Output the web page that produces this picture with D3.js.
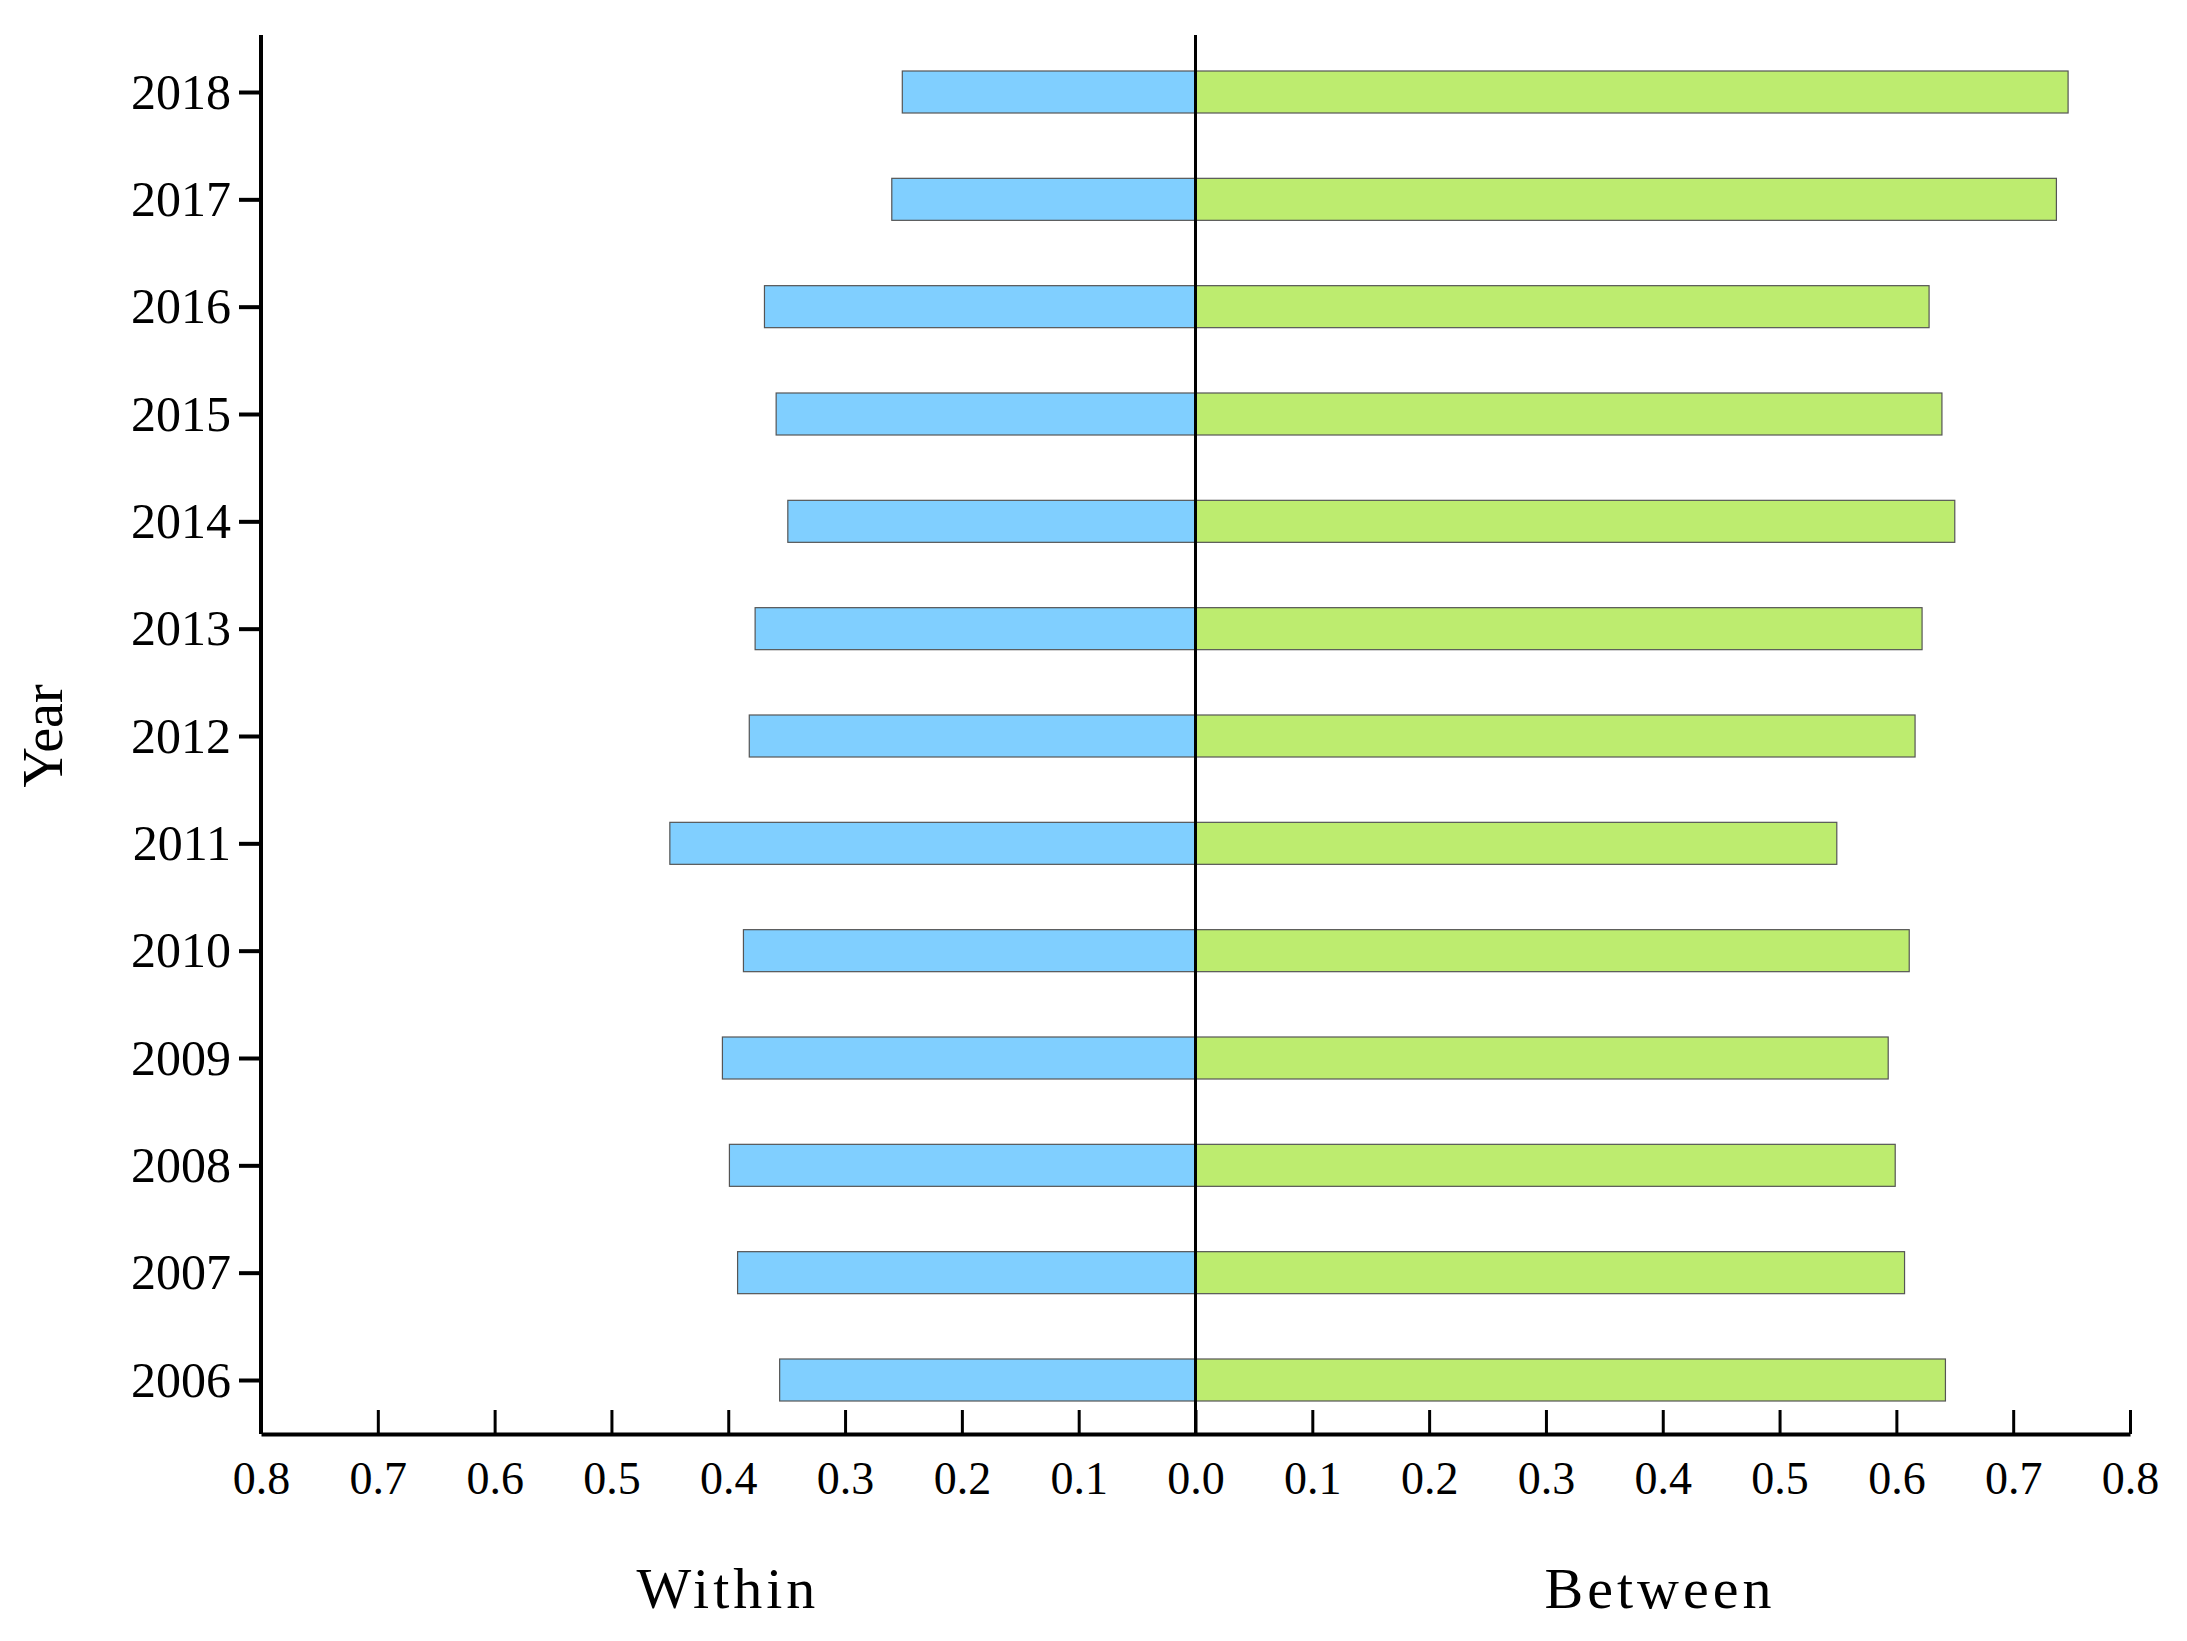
<!DOCTYPE html>
<html><head><meta charset="utf-8">
<script src="https://d3js.org/d3.v7.min.js"></script>
<style>body{margin:0;background:#fff}</style></head>
<body><svg id="c" width="2187" height="1641"></svg>
<script>
const years = ["2006","2007","2008","2009","2010","2011","2012","2013","2014","2015","2016","2017","2018"];
const within = [0.356,0.392,0.399,0.405,0.387,0.450,0.382,0.377,0.349,0.359,0.369,0.260,0.251];
const between = [0.642,0.607,0.599,0.593,0.611,0.549,0.616,0.622,0.650,0.639,0.628,0.737,0.747];
const tickVals = [-0.8,-0.7,-0.6,-0.5,-0.4,-0.3,-0.2,-0.1,0,0.1,0.2,0.3,0.4,0.5,0.6,0.7,0.8];

const svg = d3.select("#c");
const font = "'Liberation Serif', serif";
const x = d3.scaleLinear().domain([-0.8,0.8]).range([261,2130]);
const y = d3.scalePoint().domain(years).range([1380,92]);
const axisY = 1434, bh = 42;

// bars
svg.selectAll(".w").data(years).join("rect")
  .attr("x",(d,i)=>x(-within[i])).attr("y",d=>y(d)-bh/2)
  .attr("width",(d,i)=>x(0)-x(-within[i])).attr("height",bh)
  .attr("fill","#80cfff").attr("stroke","#555").attr("stroke-width",1.2);
svg.selectAll(".b").data(years).join("rect")
  .attr("x",x(0)).attr("y",d=>y(d)-bh/2)
  .attr("width",(d,i)=>x(between[i])-x(0)).attr("height",bh)
  .attr("fill","#bdec6f").attr("stroke","#555").attr("stroke-width",1.2);

// center line
svg.append("line").attr("x1",x(0)).attr("x2",x(0)).attr("y1",35).attr("y2",axisY).attr("stroke","#000").attr("stroke-width",3);

// x axis
const xa = svg.append("g").attr("transform",`translate(0,${axisY})`)
  .call(d3.axisBottom(x).tickValues(tickVals).tickSize(-24).tickSizeOuter(0)
    .tickFormat(d=>{const s=Math.abs(d).toFixed(1);return s.split("").join(" ").replace(" . "," .");}));
xa.select(".domain").attr("stroke-width",4);
xa.selectAll(".tick line").attr("stroke-width",3);
xa.selectAll("text").attr("font-family",font).attr("font-size",46).attr("dy","0").attr("y",60)
  .text(d=>Math.abs(d).toFixed(1));

// y axis
const ya = svg.append("g").attr("transform",`translate(261,0)`)
  .call(d3.axisLeft(y).tickSize(22).tickSizeOuter(0).tickPadding(8));
ya.select(".domain").attr("d",`M0,35V${axisY}`).attr("stroke-width",4);
ya.selectAll(".tick line").attr("stroke-width",4);
ya.selectAll("text").attr("font-family",font).attr("font-size",50);

svg.append("text").attr("transform","translate(62,736) rotate(-90)").attr("text-anchor","middle")
  .attr("font-family",font).attr("font-size",56).text("Year");
svg.append("text").attr("x",728).attr("y",1608).attr("text-anchor","middle")
  .attr("font-family",font).attr("font-size",58).attr("letter-spacing",4).text("Within");
svg.append("text").attr("x",1660).attr("y",1608).attr("text-anchor","middle")
  .attr("font-family",font).attr("font-size",58).attr("letter-spacing",4).text("Between");
</script></body></html>
